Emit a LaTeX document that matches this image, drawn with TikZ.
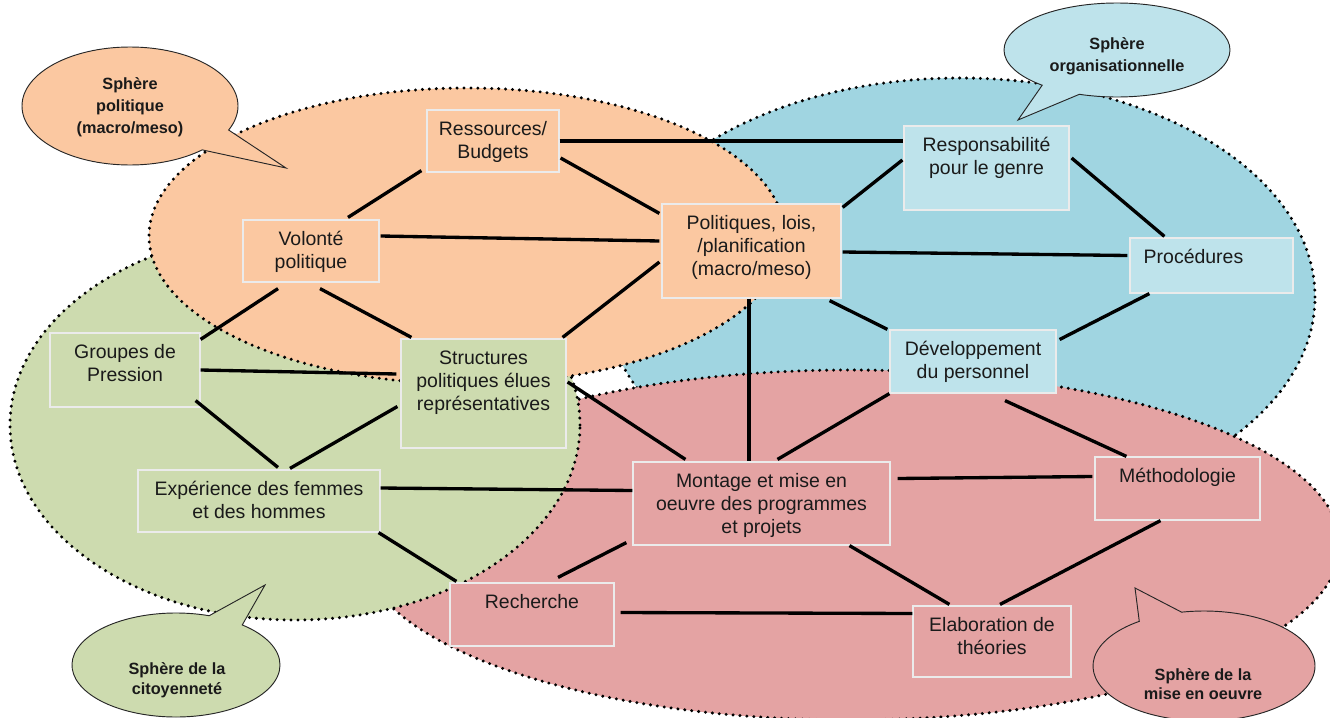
\documentclass[tikz,border=0pt]{standalone}
\usepackage{fontspec}
\setmainfont{Liberation Sans}
\usetikzlibrary{shapes.callouts,calc}
\newdimen\pxu \pxu=0.75pt
\newcommand{\bt}[3]{\parbox[c][#2\pxu][t]{#1\pxu}{\centering\fontsize{14.6}{17.3}\selectfont\rule{0pt}{19pt}#3\par}}
\definecolor{orangeF}{HTML}{FBC8A1}
\definecolor{blueF}{HTML}{A0D5E1}
\definecolor{greenF}{HTML}{CDDBAF}
\definecolor{redF}{HTML}{E4A3A3}
\definecolor{blueL}{HTML}{BEE3EB}
\definecolor{txt}{HTML}{1A1A1A}
\tikzset{
  sphere/.style={draw=black, line width=2.5pt, dash pattern=on 0pt off 5.2pt, line cap=round},
  bx/.style={rectangle, inner sep=0pt, draw=white!92!black, line width=0.9pt, text=txt},
  link/.style={line width=2.5pt, black},
  bubble/.style={ellipse callout, draw=black!85, line width=0.7pt, inner sep=0pt},
  btxt/.style={font=\bfseries\fontsize{12.2}{16.5}\selectfont, align=center, text=txt},
}
\begin{document}
\begin{tikzpicture}[x=0.75pt, y=-0.75pt]
\useasboundingbox (0,0) rectangle (1330,717);
\fill[white] (0,0) rectangle (1330,717);
% spheres
\draw[sphere, fill=blueF] (960,297) ellipse [x radius=266.25pt, y radius=164.25pt];
\draw[sphere, fill=redF] (850,545) ellipse [x radius=367.5pt, y radius=131.25pt];
\draw[sphere, fill=greenF] (295,425) ellipse [x radius=213.75pt, y radius=146.25pt];
\draw[sphere, fill=orangeF] (467,236) ellipse [x radius=238.5pt, y radius=111pt];
% callouts
\node[bubble, fill=orangeF, minimum width={216*0.75}, minimum height={118*0.75}, callout absolute pointer={(286,168)}, callout pointer arc=24] (c1) at (130,106) {};
\node[bubble, fill=blueL, minimum width={226*0.75}, minimum height={94*0.75}, callout absolute pointer={(1018,120)}, callout pointer arc=22] (c2) at (1117,50) {};
\node[bubble, fill=greenF, minimum width={208*0.75}, minimum height={104*0.75}, callout absolute pointer={(265,585)}, callout pointer arc=21] (c3) at (176,665) {};
\node[bubble, fill=redF, minimum width={222*0.75}, minimum height={110*0.75}, callout absolute pointer={(1135,588)}, callout pointer arc=24] (c4) at (1204,666) {};
\node[btxt] (t1) at (130,107) {Sphère\\politique\\(macro/meso)};
\node[btxt] (t2) at (1117,56) {Sphère\\organisationnelle};
\node[btxt, font=\bfseries\fontsize{12.2}{14.8}\selectfont] (t3) at (177,680) {Sphère de la\\citoyenneté};
\node[btxt, font=\bfseries\fontsize{12.2}{14.8}\selectfont] (t4) at (1203,684) {Sphère de la\\mise en oeuvre};
% boxes
\node[bx, fill=orangeF] (ress) at (493,141) {\bt{132}{62}{Ressources/\\Budgets}};
\node[bx, fill=orangeF] (vol) at (311,251) {\bt{136}{62}{Volonté\\politique}};
\node[bx, fill=orangeF] (pol) at (751.5,251) {\bt{179}{94}{Politiques, lois,\\/planification\\(macro/meso)}};
\node[bx, fill=blueL] (resp) at (986.5,168) {\bt{165}{84}{Responsabilité\\pour le genre}};
\node[bx, fill=blueL] (proc) at (1211.5,265.5) {\bt{163}{55}{Procédures\hspace*{27pt}}};
\node[bx, fill=blueL] (dev) at (973,361.5) {\bt{166}{63}{Développement\\du personnel}};
\node[bx, fill=greenF] (grp) at (125,370) {\bt{150}{74}{Groupes de\\Pression}};
\node[bx, fill=greenF] (str) at (483.5,393.5) {\bt{165}{109}{Structures\\politiques élues\\représentatives}};
\node[bx, fill=greenF] (exp) at (259,501) {\bt{242}{62}{Expérience des femmes\\et des hommes}};
\node[bx, fill=redF] (mont) at (761.5,503.5) {\bt{257}{83}{Montage et mise en\\oeuvre des programmes\\et projets}};
\node[bx, fill=redF] (meth) at (1177.5,488.5) {\bt{165}{63}{Méthodologie}};
\node[bx, fill=redF] (rech) at (532,614.5) {\bt{164}{63}{Recherche}};
\node[bx, fill=redF] (elab) at (992,641.5) {\bt{158}{71}{Elaboration de\\théories}};
% connectors
\draw[link] (ress.east) -- (ress.east -| resp.west);
\draw[link] ($(ress.east)+(1,17)$) -- ($(pol.north west)+(-2,10)$);
\draw[link] ($(vol.north)+(37,-2)$) -- ($(ress.south west)+(-5,-2)$);
\draw[link] ($(vol.east)+(1,-15)$) -- ($(pol.west)+(-2,-10)$);
\draw[link] ($(vol.south)+(-33,6)$) -- ($(grp.north east)+(0,7)$);
\draw[link] ($(vol.south)+(9,6)$) -- ($(str.north west)+(11,-1)$);
\draw[link] ($(pol.west)+(-2,11)$) -- ($(str.north east)+(-4,-1)$);
\draw[link] ($(pol.north east)+(1,4)$) -- ($(resp.west)+(-1,-8)$);
\draw[link] ($(pol.east)+(1,1)$) -- ($(proc.west)+(-2,-10)$);
\draw[link] ($(pol.south east)+(-12,2)$) -- ($(dev.north west)+(-2,0)$);
\draw[link] ($(pol.south)+(-2.5,0)$) -- ($(mont.north)+(-12.5,0)$);
\draw[link] ($(resp.east)+(2,-10)$) -- ($(proc.north west)+(35,-1)$);
\draw[link] ($(proc.south west)+(20,0)$) -- ($(dev.east)+(3,-22)$);
\draw[link] (grp.east) -- ($(str.west)+(-4,-19.5)$);
\draw[link] ($(grp.south east)+(-5,-7)$) -- ($(exp.north)+(19,-2)$);
\draw[link] ($(str.west)+(-3,13)$) -- ($(exp.north)+(31,-1)$);
\draw[link] ($(str.east)+(1,-11.5)$) -- ($(mont.north west)+(53,-2)$);
\draw[link] ($(exp.east)+(0,-13)$) -- ($(mont.west)+(0,-13)$);
\draw[link] ($(exp.south east)+(-2,0)$) -- ($(rech.north west)+(7,-1)$);
\draw[link] (dev.south west) -- ($(mont.north)+(16,-2)$);
\draw[link] ($(dev.south)+(32,7)$) -- ($(meth.north west)+(32,0)$);
\draw[link] ($(mont.east)+(7,-25)$) -- ($(meth.west)+(-2,-12)$);
\draw[link] ($(mont.south west)+(-6,-3)$) -- ($(rech.north)+(26,-5)$);
\draw[link] ($(mont.south)+(88,0)$) -- ($(elab.north west)+(37,-1)$);
\draw[link] ($(rech.east)+(6,-2)$) -- ($(elab.west)+(0,-28)$);
\draw[link] ($(meth.south)+(-17,0)$) -- ($(elab.north)+(8,-1)$);
\end{tikzpicture}
\end{document}
